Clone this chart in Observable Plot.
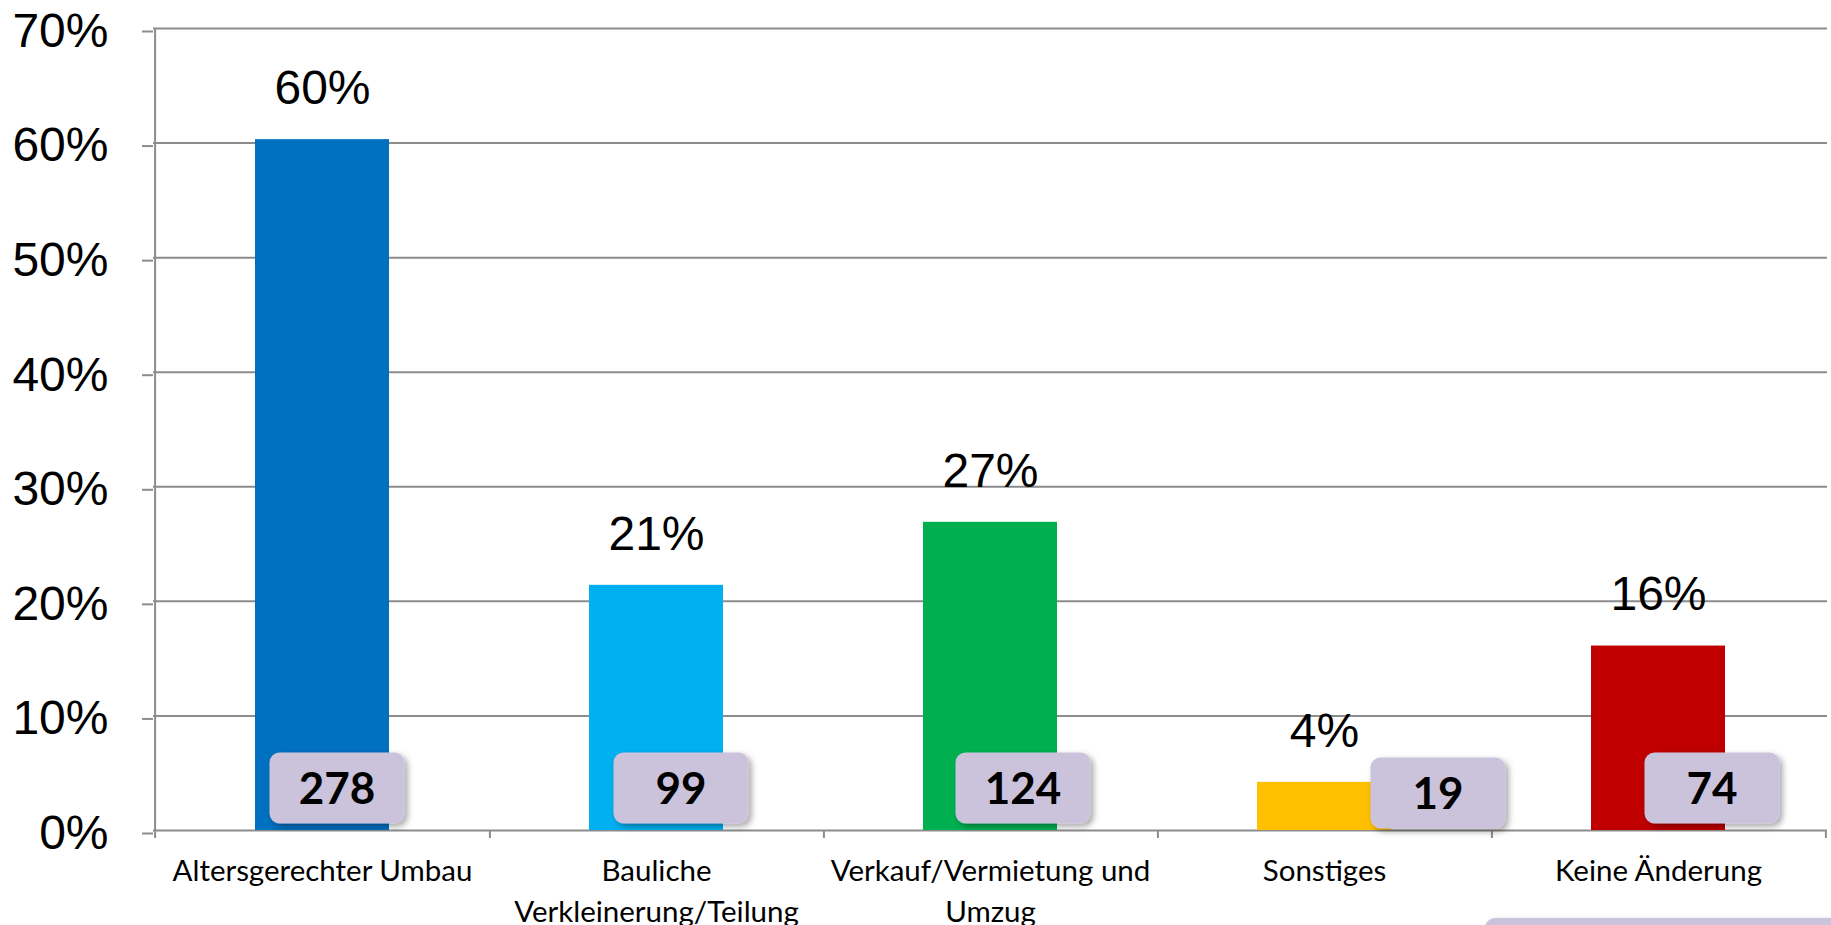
<!DOCTYPE html>
<html><head><meta charset="utf-8">
<script src="https://cdn.jsdelivr.net/npm/d3@7"></script>
<script src="https://cdn.jsdelivr.net/npm/@observablehq/plot@0.6"></script>
<style>
body{margin:0;background:#fff}
#chart{position:relative;width:1831px;height:925px;overflow:hidden}
.note{position:absolute;left:1485px;top:918px;width:380px;height:60px;background:#cbc3db;border-radius:10px;box-shadow:2px 2px 5px rgba(0,0,0,.3)}
</style>
</head><body><div id="chart"><div class="note"></div></div>
<script>
// ---- data ----
const categories = ["Altersgerechter Umbau", "Bauliche Verkleinerung/Teilung", "Verkauf/Vermietung und Umzug", "Sonstiges", "Keine Änderung"];
const tickLabels = ["Altersgerechter Umbau", "Bauliche\nVerkleinerung/Teilung", "Verkauf/Vermietung und\nUmzug", "Sonstiges", "Keine Änderung"];
const percents = [60.3, 21.4, 26.9, 4.2, 16.1];
const counts = [278, 99, 124, 19, 74];
const yTicks = [0, 10, 20, 30, 40, 50, 60, 70];
// ---- styles / layout ----
const colors = ["#0070C0", "#00B0F0", "#00B050", "#FFC000", "#C00000"];
const boxDx = [15, 25, 33, 114, 54];
const boxDy = [-42, -42, -42, -37, -42];

const rows = categories.map((c, i) => ({category: c, pct: percents[i], count: counts[i], color: colors[i], bdx: boxDx[i], bdy: boxDy[i]}));
const W = 1831, H = 925, mL = 153, mR = 4, mT = 28, mB = 95;
const step = (W - mL - mR) / categories.length;
const grey = "#8c8c8c";
const arial = "Liberation Sans, Arial, sans-serif";
const calibri = "Lato, sans-serif";

const countBoxes = Plot.text(rows, {
  x: "category", y: () => 0, text: "count",
  render(index, scales, values, dims, context, next) {
    const half = scales.x.bandwidth() / 2;
    const g = d3.create("svg:g");
    const f = g.append("defs").append("filter").attr("id", "boxShadow")
      .attr("x", "-20%").attr("y", "-20%").attr("width", "150%").attr("height", "150%");
    f.append("feDropShadow").attr("dx", 3).attr("dy", 3).attr("stdDeviation", 3)
      .attr("flood-color", "#000").attr("flood-opacity", 0.35);
    for (const i of index) {
      const d = rows[i];
      const cx = values.x[i] + half + d.bdx;
      const cy = values.y[i] + d.bdy;
      g.append("rect").attr("x", cx - 67.5).attr("y", cy - 35.5)
        .attr("width", 135).attr("height", 71).attr("rx", 10)
        .attr("fill", "#cbc3db").attr("filter", "url(#boxShadow)");
      g.append("text").attr("x", cx).attr("y", cy).attr("dy", "0.36em")
        .attr("text-anchor", "middle").attr("font-family", calibri)
        .attr("font-weight", "bold").attr("font-size", 44).attr("fill", "#000")
        .text(d.count);
    }
    return g.node();
  }
});

const chart = Plot.plot({
  width: W, height: H,
  marginLeft: mL, marginRight: mR, marginTop: mT, marginBottom: mB,
  style: {background: "transparent", overflow: "visible"},
  x: {domain: categories, paddingInner: 0.6, paddingOuter: 0.3, label: null},
  y: {domain: [0, 70], label: null},
  marks: [
    Plot.gridY(yTicks, {stroke: grey, strokeOpacity: 1, strokeWidth: 2}),
    Plot.axisY(yTicks, {tickSize: 11, tickPadding: 34, stroke: grey, strokeWidth: 2, dy: 3,
      tickFormat: d => d + "%", fontSize: 48, fontFamily: arial, fill: "#000", label: null}),
    Plot.ruleX([categories[0]], {x: d => d, dx: -step / 2, insetBottom: -8, stroke: grey, strokeWidth: 2}),
    Plot.ruleX(categories, {x: d => d, dx: step / 2, insetTop: H - mT - mB, insetBottom: -8, stroke: grey, strokeWidth: 2}),
    Plot.barY(rows, {x: "category", y: "pct", fill: "color"}),
    Plot.text(rows, {x: "category", y: "pct", text: d => Math.round(d.pct) + "%", dy: -51,
      fontSize: 48, fontFamily: arial, fill: "#000"}),
    Plot.axisX({tickSize: 0, tickPadding: 22, fontSize: 29.5, fontFamily: calibri, fill: "#000",
      lineHeight: 1.38, label: null, tickFormat: d => tickLabels[categories.indexOf(d)]}),
    countBoxes
  ]
});
document.getElementById("chart").prepend(chart);
</script>
</body></html>
